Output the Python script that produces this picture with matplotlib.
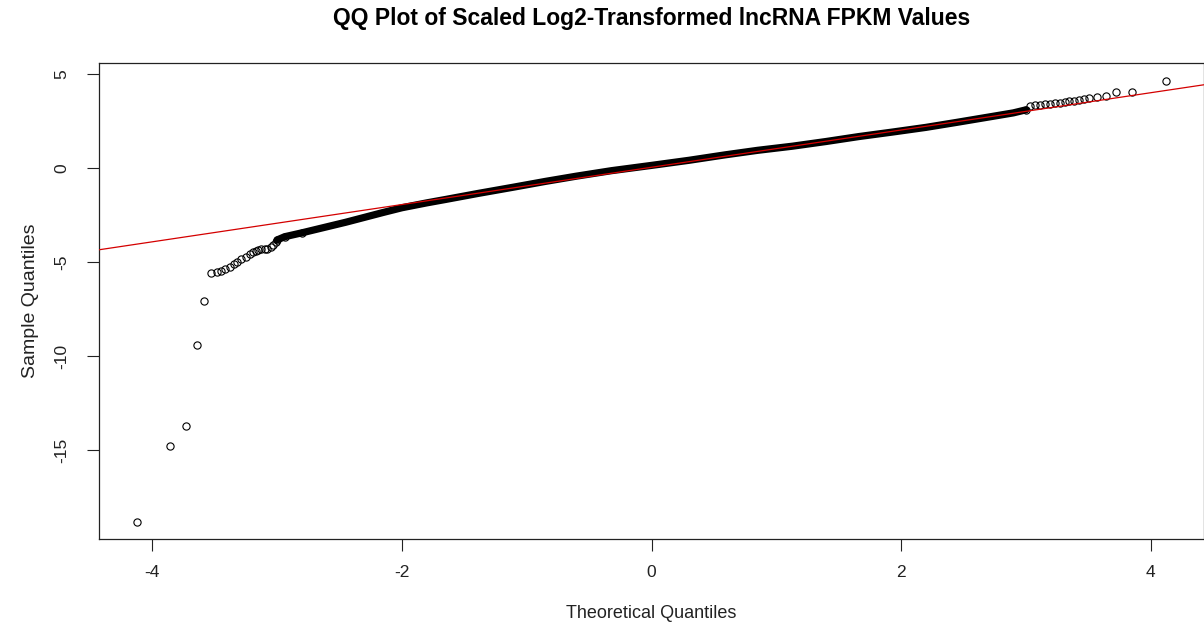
import matplotlib
matplotlib.use("Agg")
import matplotlib.pyplot as plt

plt.rcParams['font.family'] = ['Liberation Sans', 'DejaVu Sans']

# sparse lower tail, one entry per visible circle
low_x = [-4.12, -3.86, -3.73, -3.64, -3.585, -3.53, -3.48, -3.45, -3.42, -3.38,
         -3.35, -3.32, -3.29, -3.25, -3.22, -3.19, -3.17, -3.15, -3.13, -3.10,
         -3.08, -3.05, -3.03, -3.01]
low_y = [-18.83, -14.79, -13.71, -9.41, -7.06, -5.60, -5.55, -5.46, -5.35, -5.25,
         -5.12, -5.00, -4.86, -4.72, -4.59, -4.48, -4.40, -4.35, -4.32, -4.32,
         -4.30, -4.22, -4.10, -3.95]

# dense middle part, read along the centre of the black band
band_x = [-3.00, -2.94, -2.80, -2.65, -2.45, -2.30, -2.15, -2.00, -1.80, -1.65,
          -1.39, -1.10, -0.85, -0.60, -0.32, 0.00, 0.30, 0.59, 0.85, 1.13,
          1.40, 1.66, 1.93, 2.20, 2.45, 2.73, 2.90, 3.00]
band_y = [-3.83, -3.66, -3.45, -3.21, -2.89, -2.63, -2.37, -2.12, -1.86, -1.68,
          -1.36, -1.02, -0.72, -0.44, -0.15, 0.13, 0.40, 0.69, 0.93, 1.15,
          1.40, 1.66, 1.90, 2.15, 2.42, 2.73, 2.92, 3.08]

# sparse upper tail
high_x = [3.03, 3.07, 3.11, 3.15, 3.19, 3.23, 3.27, 3.31, 3.35, 3.39,
          3.43, 3.47, 3.51, 3.57, 3.64, 3.72, 3.85, 4.12]
high_y = [3.26, 3.32, 3.35, 3.39, 3.40, 3.44, 3.46, 3.49, 3.53, 3.56,
          3.58, 3.67, 3.71, 3.76, 3.83, 4.01, 4.01, 4.63]

# qqline
line_intercept = 0.03
line_slope = 0.99

x_ticks = [-4, -2, 0, 2, 4]
y_ticks = [5, 0, -5, -10, -15]

W, H = 1204, 634
fig = plt.figure(figsize=(W / 100, H / 100), dpi=100)
ax = fig.add_axes([99 / W, 1 - 539 / H, (W - 99) / W, (539 - 63) / H])

ax.plot(band_x, band_y, color='black', lw=5.2, solid_capstyle='round', zorder=2)
ax.plot(low_x + band_x[:3] + band_x[-1:] + high_x, low_y + band_y[:3] + band_y[-1:] + high_y,
        linestyle='none', marker='o', markersize=5.2, markerfacecolor='none',
        markeredgecolor='black', markeredgewidth=0.8, zorder=3)
ax.axline((0, line_intercept), slope=line_slope, color='#d40000', lw=0.9, zorder=4)

ax.set_xlim(-4.428, 4.428)
ax.set_ylim(-19.72, 5.57)
ax.set_xticks(x_ticks)
ax.set_yticks(y_ticks)
ax.set_xticklabels([str(v) for v in x_ticks])
ax.set_yticklabels([str(v) for v in y_ticks], rotation=90, va='center')
ax.tick_params(axis='both', length=8.6, width=0.8, colors='#222222', labelsize=12.5)
ax.tick_params(axis='x', pad=10)
ax.tick_params(axis='y', pad=13)
for s in ax.spines.values():
    s.set_linewidth(0.9)
    s.set_color('#222222')

ax.set_xlabel('Theoretical Quantiles', fontsize=13, color='#222222', labelpad=18)
ax.set_ylabel('Sample Quantiles', fontsize=14, color='#222222', labelpad=11)
fig.text((99 + W) / 2 / W, 1 - 19 / H, 'QQ Plot of Scaled Log2-Transformed lncRNA FPKM Values',
         ha='center', va='center', fontsize=16.5, fontweight='bold', color='black')

fig.savefig('out.png', dpi=100)
